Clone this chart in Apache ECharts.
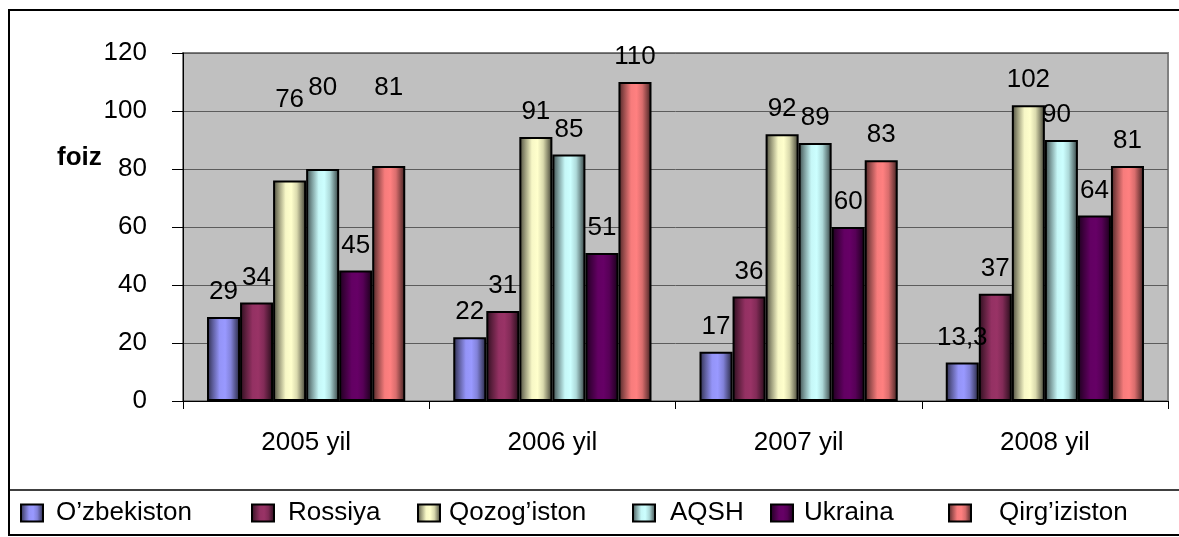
<!DOCTYPE html>
<html>
<head>
<meta charset="utf-8">
<title>foiz</title>
<script src="https://cdn.jsdelivr.net/npm/echarts@6/dist/echarts.min.js"></script>
<style>
  html, body { margin: 0; padding: 0; background: #ffffff; }
  #chart { width: 1179px; height: 537px; }
</style>
</head>
<body>
<div id="chart"></div>
<script>
// Years on the category axis
const categories = ['2005 yil', '2006 yil', '2007 yil', '2008 yil'];

// Values per country, in percent
const uzbekistan = [29, 22, 17, 13.3];
const russia     = [34, 31, 36, 37];
const kazakhstan = [76, 91, 92, 102];
const usa        = [80, 85, 89, 90];
const ukraine    = [45, 51, 60, 64];
const kyrgyzstan = [81, 110, 83, 81];

// Value axis range
const yMin = 0;
const yMax = 120;
const yStep = 20;

const FONT = '"Liberation Sans", Arial, Helvetica, sans-serif';

function shade(hex, f) {
  const n = parseInt(hex.slice(1), 16);
  const r = Math.round(((n >> 16) & 255) * f);
  const g = Math.round(((n >> 8) & 255) * f);
  const b = Math.round((n & 255) * f);
  return 'rgb(' + r + ',' + g + ',' + b + ')';
}

// Cylinder-like horizontal shading for each bar
function cylinder(hex) {
  return new echarts.graphic.LinearGradient(0, 0, 1, 0, [
    { offset: 0.00, color: shade(hex, 0.28) },
    { offset: 0.18, color: shade(hex, 0.62) },
    { offset: 0.38, color: shade(hex, 0.97) },
    { offset: 0.55, color: shade(hex, 1.00) },
    { offset: 0.72, color: shade(hex, 0.85) },
    { offset: 0.90, color: shade(hex, 0.45) },
    { offset: 1.00, color: shade(hex, 0.22) }
  ]);
}

const seriesDefs = [
  { name: 'O’zbekiston', values: uzbekistan, color: '#9999FF' },
  { name: 'Rossiya',     values: russia,     color: '#993366' },
  { name: 'Qozog’iston', values: kazakhstan, color: '#FFFFCC' },
  { name: 'AQSH',        values: usa,        color: '#CCFFFF' },
  { name: 'Ukraina',     values: ukraine,    color: '#660066' },
  { name: 'Qirg’iziston', values: kyrgyzstan, color: '#FF8080' }
];

// Labels that sit higher than the default spot above their bar
const labelShift = {
  'Qozog’iston|0': [0, -56],
  'AQSH|0': [0, -56],
  'Qirg’iziston|0': [0, -53],
  'AQSH|3': [-5, 0]
};

const series = seriesDefs.map(function (s) {
  return {
    name: s.name,
    type: 'bar',
    barGap: '0%',
    barCategoryGap: '19.5%',
    itemStyle: {
      color: cylinder(s.color),
      borderColor: '#000000',
      borderWidth: 2
    },
    label: {
      show: true,
      position: 'top',
      distance: 12,
      color: '#000000',
      fontFamily: FONT,
      fontSize: 26,
      formatter: function (p) { return String(p.value).replace('.', ','); }
    },
    data: s.values.map(function (v, i) {
      const shift = labelShift[s.name + '|' + i];
      return shift ? { value: v, label: { offset: shift } } : { value: v };
    })
  };
});

// Legend entries: icon left edge and gap before the text
const legendSlots = [
  { name: 'O’zbekiston', left: 20,  gap: 8 },
  { name: 'Rossiya',     left: 251, gap: 9 },
  { name: 'Qozog’iston', left: 417, gap: 4 },
  { name: 'AQSH',        left: 632, gap: 10 },
  { name: 'Ukraina',     left: 770, gap: 6 },
  { name: 'Qirg’iziston', left: 948, gap: 23 }
];

const legends = legendSlots.map(function (l) {
  return {
    data: [{ name: l.name, icon: 'rect' }],
    left: l.left,
    top: 500,
    padding: 0,
    itemWidth: 22,
    itemHeight: 17,
    selectedMode: false,
    textStyle: {
      fontFamily: FONT,
      fontSize: 26,
      color: '#000000',
      padding: [0, 0, 0, l.gap]
    }
  };
});

const chart = echarts.init(document.getElementById('chart'), null, { renderer: 'canvas' });

chart.setOption({
  animation: false,
  backgroundColor: '#ffffff',
  grid: {
    left: 183,
    right: 11,
    top: 53,
    bottom: 136,
    show: true,
    backgroundColor: '#C0C0C0',
    borderColor: '#808080',
    borderWidth: 2
  },
  legend: legends,
  xAxis: {
    type: 'category',
    data: categories,
    axisLine: { show: true, lineStyle: { color: '#000000', width: 1 } },
    axisTick: { show: true, length: 8, lineStyle: { color: '#000000' } },
    axisLabel: { color: '#000000', fontFamily: FONT, fontSize: 26, margin: 29 }
  },
  yAxis: {
    type: 'value',
    min: yMin,
    max: yMax,
    interval: yStep,
    axisLine: { show: true, lineStyle: { color: '#000000', width: 1 } },
    axisTick: { show: true, length: 11, lineStyle: { color: '#000000' } },
    axisLabel: { color: '#000000', fontFamily: FONT, fontSize: 26, margin: 36 },
    splitLine: { show: true, lineStyle: { color: '#5c5c5c', width: 1 } }
  },
  graphic: [
    {
      type: 'rect',
      z: 100,
      silent: true,
      shape: { x: 9, y: 10, width: 1200, height: 525 },
      style: { fill: null, stroke: '#000000', lineWidth: 2 }
    },
    {
      type: 'line',
      z: 100,
      silent: true,
      shape: { x1: 9, y1: 490, x2: 1179, y2: 490 },
      style: { stroke: '#000000', lineWidth: 1.5 }
    },
    {
      type: 'text',
      z: 100,
      silent: true,
      style: {
        x: 57,
        y: 158,
        text: 'foiz',
        fill: '#000000',
        font: 'bold 26px ' + FONT,
        textVerticalAlign: 'middle'
      }
    }
  ],
  series: series
});
</script>
</body>
</html>
